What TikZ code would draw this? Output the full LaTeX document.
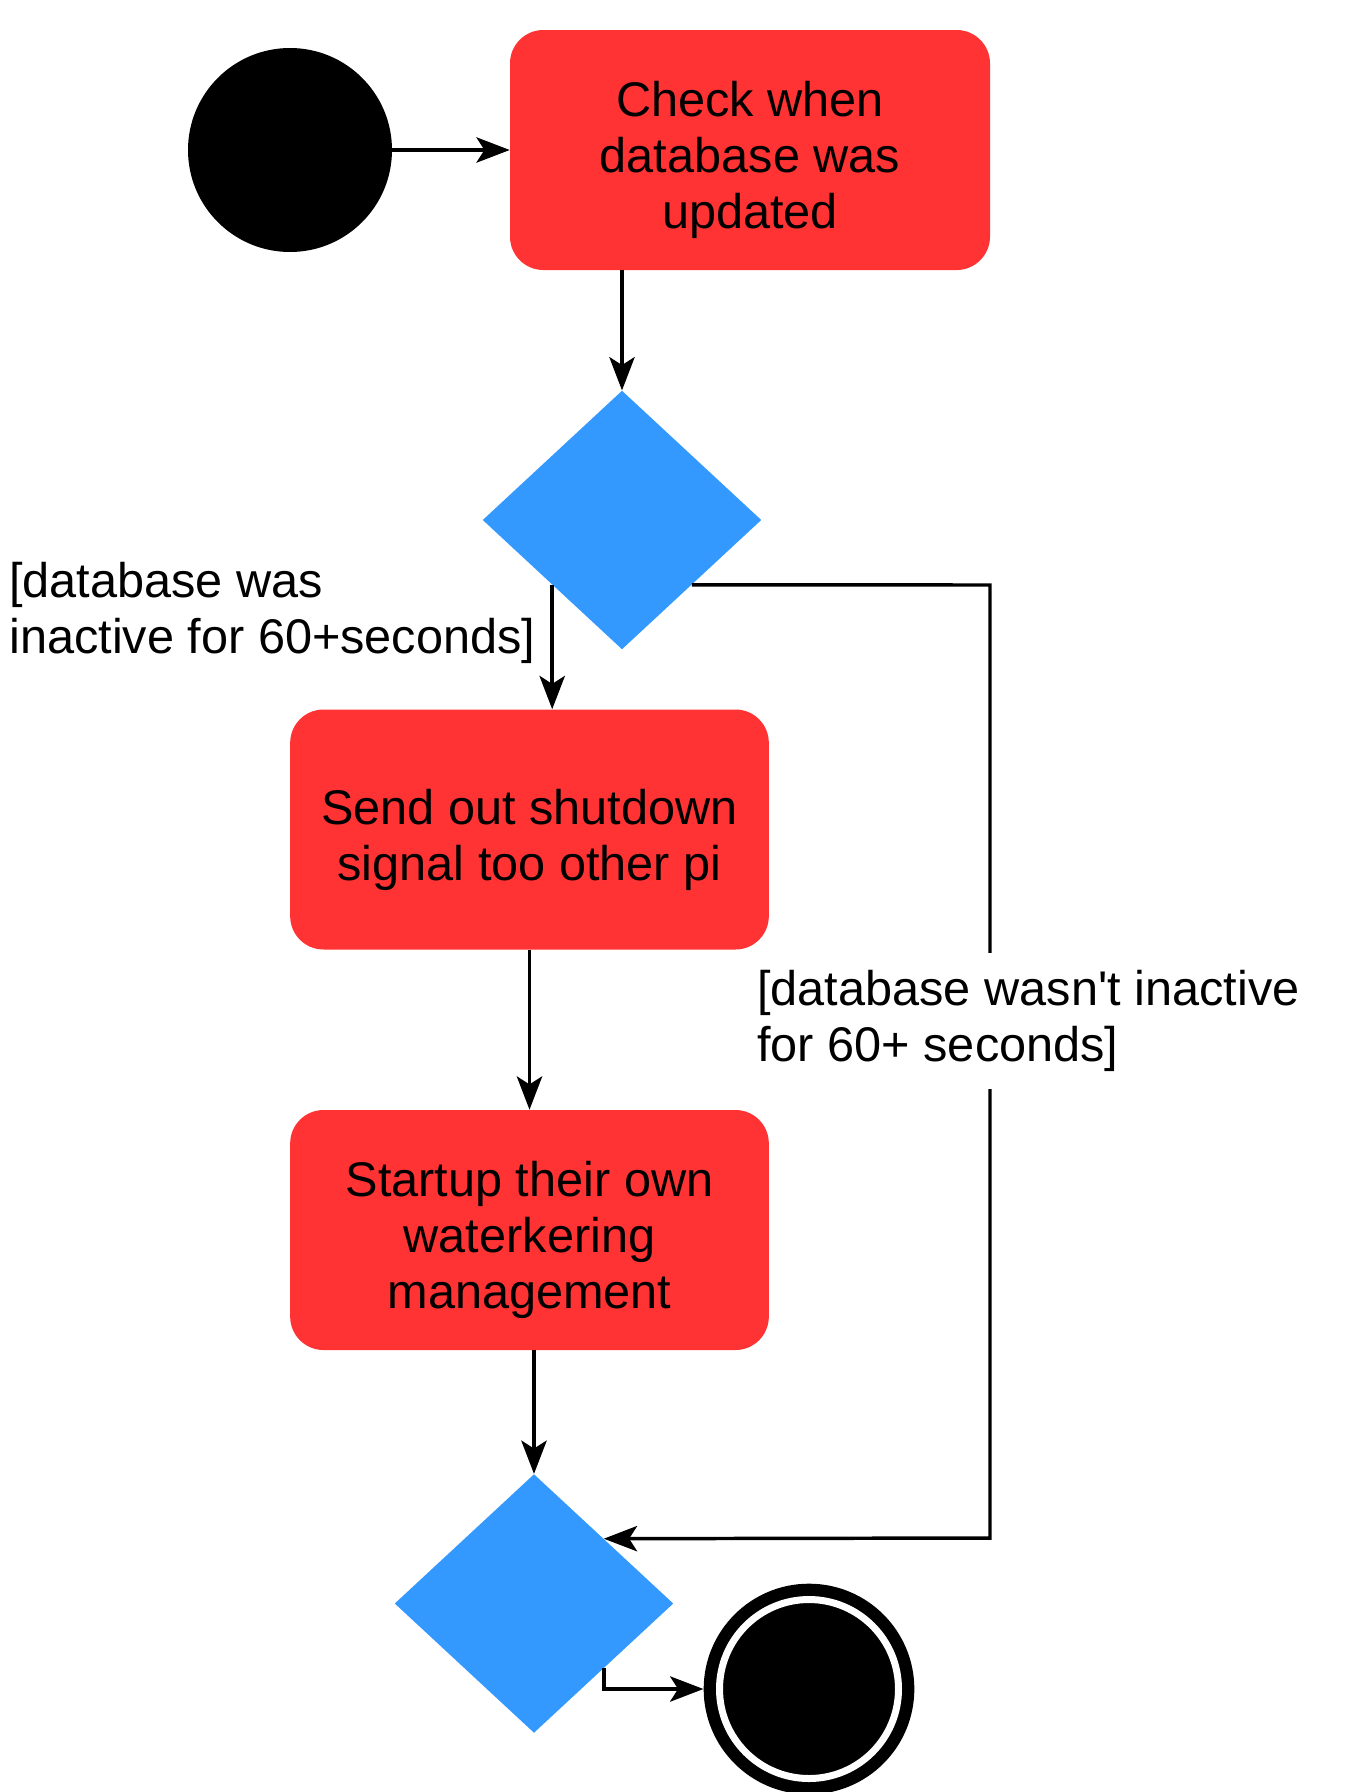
\documentclass[tikz,border=0pt]{standalone}
\usepackage{fontspec}
\setmainfont{Liberation Sans}
\usetikzlibrary{shapes.geometric,arrows.meta}
\definecolor{actred}{HTML}{FF3333}
\definecolor{decblue}{HTML}{3399FF}
\newcommand\mainfs{\fontsize{36.5}{42}\selectfont}
\begin{document}
\begin{tikzpicture}[x=0.75pt,y=-0.75pt,
  actbox/.style={rectangle, rounded corners=25pt, fill=actred,
    inner sep=0pt, minimum width=359pt, minimum height=180pt},
  boxtext/.style={align=center, font=\mainfs, inner sep=0pt, yshift=-7.5pt},
  decision/.style={diamond, fill=decblue, inner sep=0pt,
    minimum width=209pt, minimum height=194pt},
  startdot/.style={circle, fill=black, inner sep=0pt, minimum size=153pt},
  enddot/.style={circle, fill=black, inner sep=0pt, minimum size=158pt},
  lbl/.style={align=left, font=\mainfs, inner sep=0pt},
  flow/.style={line width=2.6pt, -{Stealth[length=25pt, width=19pt, inset=6pt]}}
]
\useasboundingbox (0,0) rectangle (1352,1792);

\node[startdot] (start) at (290,150) {};
\node[actbox, minimum width=360pt,
  label={[boxtext]center:{Check when\\database was\\updated}}] (check) at (750,150) {};
\node[decision] (dec1) at (622,520) {};
\node[actbox,
  label={[boxtext]center:{Send out shutdown\\signal too other pi}}] (send) at (529.5,829.5) {};
\node[actbox,
  label={[boxtext]center:{Startup their own\\waterkering\\management}}] (startup) at (529.5,1230) {};
\node[decision] (dec2) at (534,1603.5) {};
\node[enddot] (end) at (809,1689) {};
\draw[white, line width=5.25pt] (end.center) circle (89.5);

\node[lbl, anchor=west] (lab1) at (9,613) {[database was\\inactive for 60+seconds]};

\draw[flow] (start) -- (check);
\draw[flow] (dec1.north |- check.south) -- (dec1.north);
\draw[flow] (dec1.south west) -- (dec1.south west |- send.north);

\coordinate (c1) at (990,585);
\coordinate (c2) at (990,1538);
\draw[flow] (dec1.south east) -- (c1) -- (c2) -- (dec2.north east);
\node[lbl, fill=white, inner ysep=13pt, anchor=west] (lab2) at (757,1021)
  {[database wasn\textquotesingle t inactive\\for 60+ seconds]};

\draw[flow] (send) -- (startup);
\draw[flow] (dec2.north |- startup.south) -- (dec2.north);
\draw[flow] (dec2.south east) |- (end.west);
\end{tikzpicture}
\end{document}
